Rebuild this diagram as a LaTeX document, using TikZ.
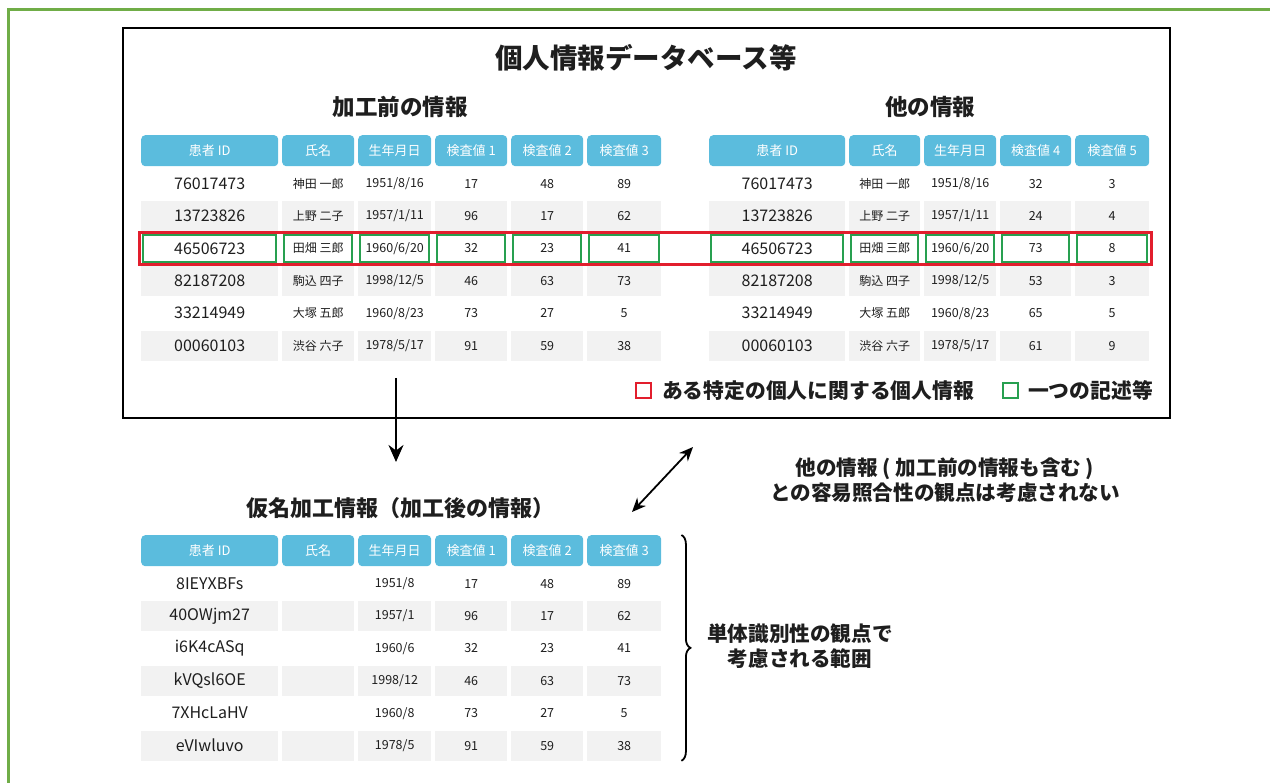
\documentclass[tikz,border=0pt]{standalone}
\usepackage{fontspec}
\setmainfont{Noto Sans CJK JP}
\usetikzlibrary{matrix,positioning,arrows.meta,decorations.pathreplacing}

\definecolor{framegreen}{RGB}{112,173,71}
\definecolor{headblue}{RGB}{91,188,221}
\definecolor{rowgray}{RGB}{242,242,242}
\definecolor{markred}{RGB}{226,30,45}
\definecolor{markgreen}{RGB}{40,160,80}
\definecolor{ink}{RGB}{30,30,30}

\tikzset{
  tbl/.style={matrix of nodes, nodes in empty cells, anchor=north west,
    inner sep=0pt, column sep=4pt, row sep=2.4pt,
    nodes={anchor=center, minimum height=30pt, inner sep=0pt, text=ink,
      font=\fontsize{12.5}{14}\selectfont},
    column 1/.style={nodes={font=\fontsize{16}{18}\selectfont}},
    column 2/.style={nodes={font=\fontsize{12}{14}\selectfont}},
    row 1/.style={nodes={fill=headblue, text=white, rounded corners=4pt,
      font=\fontsize{13}{15}\selectfont}},
    row 3/.style={nodes={fill=rowgray}},
    row 5/.style={nodes={fill=rowgray}},
    row 7/.style={nodes={fill=rowgray}}},
  colw/.style args={#1:#2}{column #1/.append style={nodes={minimum width=#2}}},
  subtitle/.style={font=\bfseries\fontsize{22.5}{25}\selectfont, text=ink},
  note/.style={font=\bfseries\fontsize{20.6}{25}\selectfont, text=ink, align=center},
  legbox/.style={minimum size=15pt, inner sep=0pt, line width=1.6pt},
  legtext/.style={font=\bfseries\fontsize{20.8}{23}\selectfont, text=ink, inner sep=0pt},
  cellmark/.style={draw=markgreen, line width=2pt},
  bigarrow/.style={line width=2pt, -{Stealth[length=17pt,width=15pt]}},
}

\begin{document}
\begin{tikzpicture}[x=1pt,y=-1pt]
  \useasboundingbox (0,0) rectangle (1270,783);

  % frame and database box
  \draw[framegreen, line width=3pt] (8,800) -- (8,10) -- (1290,10);
  \draw[line width=2.5pt] (123,28) rectangle (1170,418);
  \node[font=\bfseries\fontsize{27.5}{30}\selectfont, text=ink] (dbtitle) at (646,58) {個人情報データベース等};

  % before processing
  \node[subtitle] (lttitle) at (400,107) {加工前の情報};
  \matrix (lt) [tbl, colw=1:137pt, colw=2:72pt, colw=3:73pt, colw=4:72pt, colw=5:72pt, colw=6:74pt,
    row 1/.append style={nodes={minimum height=31pt}}] at (141,135) {
    患者 ID & 氏名 & 生年月日 & 検査値 1 & 検査値 2 & 検査値 3 \\
    76017473 & 神田 一郎 & 1951/8/16 & 17 & 48 & 89 \\
    13723826 & 上野 二子 & 1957/1/11 & 96 & 17 & 62 \\
    46506723 & 田畑 三郎 & 1960/6/20 & 32 & 23 & 41 \\
    82187208 & 駒込 四子 & 1998/12/5 & 46 & 63 & 73 \\
    33214949 & 大塚 五郎 & 1960/8/23 & 73 & 27 & 5 \\
    00060103 & 渋谷 六子 & 1978/5/17 & 91 & 59 & 38 \\
  };

  % other information
  \node[subtitle] (rttitle) at (930,107) {他の情報};
  \matrix (rt) [tbl, colw=1:136pt, colw=2:71pt, colw=3:72pt, colw=4:71pt, colw=5:74pt,
    row 1/.append style={nodes={minimum height=31pt}}] at (709,135) {
    患者 ID & 氏名 & 生年月日 & 検査値 4 & 検査値 5 \\
    76017473 & 神田 一郎 & 1951/8/16 & 32 & 3 \\
    13723826 & 上野 二子 & 1957/1/11 & 24 & 4 \\
    46506723 & 田畑 三郎 & 1960/6/20 & 73 & 8 \\
    82187208 & 駒込 四子 & 1998/12/5 & 53 & 3 \\
    33214949 & 大塚 五郎 & 1960/8/23 & 65 & 5 \\
    00060103 & 渋谷 六子 & 1978/5/17 & 61 & 9 \\
  };

  % one person
  \draw[markred, line width=3pt] ([xshift=-2pt,yshift=1pt]lt-4-1.north west) rectangle ([xshift=2pt,yshift=-1pt]rt-4-5.south east);
  \foreach \c in {1,...,6}
    \draw[cellmark] ([shift={(2pt,-2pt)}]lt-4-\c.north west) rectangle ([shift={(-2pt,2pt)}]lt-4-\c.south east);
  \foreach \c in {1,...,5}
    \draw[cellmark] ([shift={(2pt,-2pt)}]rt-4-\c.north west) rectangle ([shift={(-2pt,2pt)}]rt-4-\c.south east);

  % legend
  \node[legbox, draw=markred] (lgred) at (643.5,390.5) {};
  \node[legtext, right=10pt of lgred] (lgredtxt) {ある特定の個人に関する個人情報};
  \node[legbox, draw=markgreen] (lggreen) at (1010.5,390.5) {};
  \node[legtext, right=9pt of lggreen] (lggreentxt) {一つの記述等};

  % arrows
  \coordinate (dnfrom) at (396,378);
  \coordinate (dnto) at (396,462);
  \draw[bigarrow] (dnfrom) -- (dnto);
  \coordinate (lnklow) at (632,512);
  \coordinate (lnkhigh) at (693,447);
  \draw[line width=1.8pt, {Stealth[length=14pt,width=12pt]}-{Stealth[length=14pt,width=12pt]}] (lnklow) -- (lnkhigh);
  \node[note] (linknote) at (945,480) {他の情報 ( 加工前の情報も含む )\\との容易照合性の観点は考慮されない};

  % pseudonymised information
  \node[subtitle, font=\bfseries\fontsize{22}{25}\selectfont] (bttitle) at (400,508) {仮名加工情報（加工後の情報）};
  \matrix (bt) [tbl, colw=1:137pt, colw=2:72pt, colw=3:73pt, colw=4:72pt, colw=5:72pt, colw=6:74pt,
    row 1/.append style={nodes={minimum height=31pt}}] at (141,535) {
    患者 ID & 氏名 & 生年月日 & 検査値 1 & 検査値 2 & 検査値 3 \\
    8IEYXBFs & & 1951/8 & 17 & 48 & 89 \\
    40OWjm27 & & 1957/1 & 96 & 17 & 62 \\
    i6K4cASq & & 1960/6 & 32 & 23 & 41 \\
    kVQsl6OE & & 1998/12 & 46 & 63 & 73 \\
    7XHcLaHV & & 1960/8 & 73 & 27 & 5 \\
    eVIwluvo & & 1978/5 & 91 & 59 & 38 \\
  };
  \draw[line width=1.8pt, decorate, decoration={brace, amplitude=9pt}]
    ([xshift=20pt]bt.north east) -- ([xshift=20pt]bt.south east);
  \node[note] (scopenote) at (800,646) {単体識別性の観点で\\考慮される範囲};
\end{tikzpicture}
\end{document}
